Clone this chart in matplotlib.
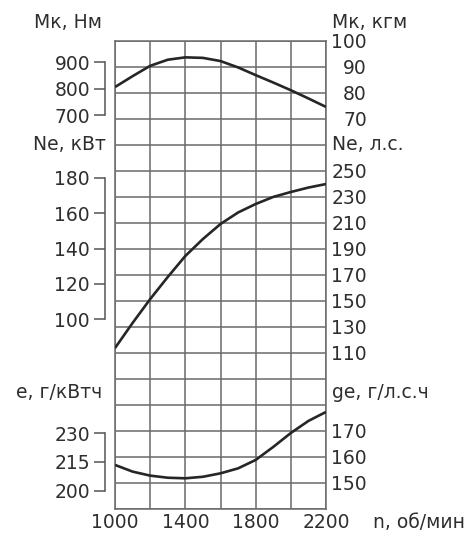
import matplotlib
matplotlib.use("Agg")
import matplotlib.pyplot as plt

plt.rcParams['font.family'] = ['DejaVu Sans']

# Engine speed, rpm
rpm = [1000, 1100, 1200, 1300, 1400, 1500, 1600, 1700, 1800, 1900, 2000, 2100, 2200]
# Torque, N·m
torque_nm = [807, 848, 887, 910, 919, 917, 905, 881, 852, 824, 795, 764, 732]
# Power, kW
power_kw = [83.7, 97.9, 111.4, 123.9, 135.8, 145.4, 153.9, 160.4, 165.2, 169.2, 172.0, 174.5, 176.5]
# Specific fuel consumption, g/kWh
sfc_gkwh = [213.4, 209.9, 207.8, 206.7, 206.4, 207.2, 209.0, 211.6, 216.0, 222.8, 230.1, 236.4, 241.1]

x_ticks = [1000, 1200, 1400, 1600, 1800, 2000, 2200]
x_labels = ['1000', '', '1400', '', '1800', '', '2200']

torque_ticks_nm = [700, 800, 900]
torque_ticks_kgm = [70, 80, 90, 100]
power_ticks_kw = [100, 120, 140, 160, 180]
power_ticks_hp = [110, 130, 150, 170, 190, 210, 230, 250]
sfc_ticks_gkwh = [200, 215, 230]
sfc_ticks_ghph = [150, 160, 170]

NM_PER_KGM = 9.80665
KW_PER_HP = 0.7355

W, H = 473, 534
fig = plt.figure(figsize=(W / 100, H / 100), dpi=100)

GRID = '#6a6a6a'
INK = '#262626'
TXT = '#2e2e2e'
FS = 13.5

left, right, top, bottom = 115, 326, 41, 509
rect = [left / W, 1 - bottom / H, (right - left) / W, (bottom - top) / H]
n_rows = 18

# Background grid
base = fig.add_axes(rect)
base.set_xlim(1000, 2200)
base.set_ylim(n_rows, 0)
base.set_xticks(x_ticks, x_labels)
base.set_yticks(range(n_rows + 1))
base.tick_params(axis='x', length=0, pad=3, labelsize=FS, colors=TXT)
base.tick_params(axis='y', length=0, labelleft=False)
base.grid(True, color=GRID, lw=1.1)
for s in base.spines.values():
    s.set_color(GRID)
    s.set_linewidth(1.1)


def panel(ylim_right, conv, values, lticks, rticks):
    """Overlay axes: metric scale on a bracket at left, secondary scale at right."""
    ax = fig.add_axes(rect, zorder=2)
    ax.patch.set_visible(False)
    ax.set_xlim(1000, 2200)
    ax.set_ylim(ylim_right[0] * conv, ylim_right[1] * conv)
    ax.plot(rpm, values, color=INK, lw=1.9, solid_capstyle='butt',
            solid_joinstyle='round')
    ax.set_xticks([])
    for k in ('top', 'right', 'bottom'):
        ax.spines[k].set_visible(False)
    ax.spines['left'].set_position(('outward', 7.2))
    ax.spines['left'].set_bounds(lticks[0], lticks[-1])
    ax.spines['left'].set_color('#555555')
    ax.spines['left'].set_linewidth(1.1)
    ax.set_yticks(lticks, [str(t) for t in lticks])
    ax.tick_params(axis='y', length=7.9, width=1.1, color='#555555', pad=2.9,
                   labelsize=FS, labelcolor=TXT)

    axr = ax.twinx()
    axr.patch.set_visible(False)
    axr.set_ylim(*ylim_right)
    for s in axr.spines.values():
        s.set_visible(False)
    axr.set_yticks(rticks, [str(t) for t in rticks], ha='right')
    axr.tick_params(axis='y', length=0, pad=29.5, labelsize=FS, labelcolor=TXT)
    return ax


# Each row of the grid spans 10 kgf·m, 20 hp and 10 g/(hp·h) respectively
panel((-80, 100), NM_PER_KGM, torque_nm, torque_ticks_nm, torque_ticks_kgm)
panel((-10, 350), KW_PER_HP, power_kw, power_ticks_kw, power_ticks_hp)
panel((140, 320), 1 / KW_PER_HP, sfc_gkwh, sfc_ticks_gkwh, sfc_ticks_ghph)


def label(x, y, s, ha):
    fig.text(x / W, 1 - y / H, s, ha=ha, va='center', fontsize=FS, color=TXT)


label(102, 22, 'Мк, Нм', 'right')
label(106, 145, 'Ne, кВт', 'right')
label(102, 393, 'e, г/кВтч', 'right')
label(332, 22, 'Мк, кгм', 'left')
label(332, 145, 'Ne, л.с.', 'left')
label(332, 392, 'ge, г/л.с.ч', 'left')
label(373, 522, 'n, об/мин', 'left')

fig.savefig('out.png', dpi=100)
